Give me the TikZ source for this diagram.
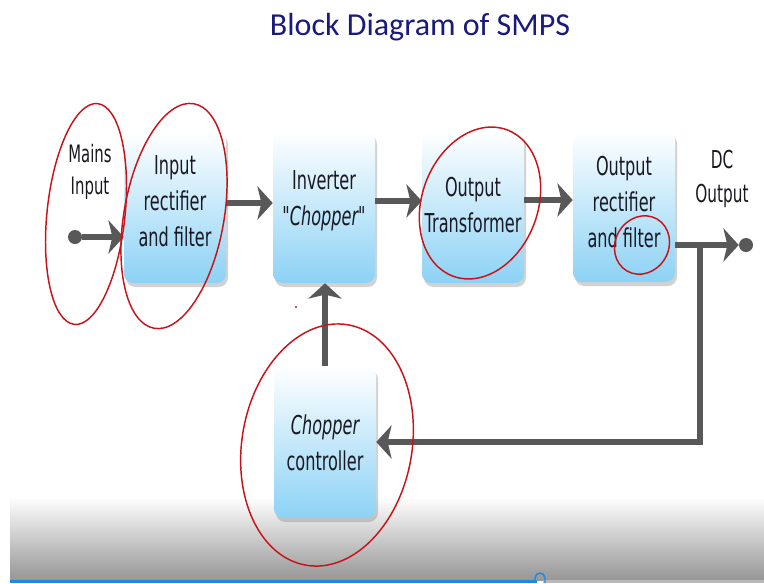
\documentclass[tikz,border=0pt]{standalone}
\usepackage{fontspec}
\usetikzlibrary{arrows.meta,shadows,calc}
\newfontfamily\boxfont[FakeStretch=0.62]{DejaVu Sans}
\newfontfamily\titlefont{Carlito}
\definecolor{linegray}{RGB}{88,88,88}
\definecolor{boxblue}{RGB}{140,210,245}
\definecolor{boxmid}{RGB}{210,239,252}
\definecolor{titleblue}{RGB}{26,26,125}
\definecolor{annred}{RGB}{200,20,25}
\definecolor{barblue}{RGB}{30,136,229}
\definecolor{shadegray}{RGB}{150,150,150}
\definecolor{textdark}{RGB}{25,25,35}
\begin{document}
\begin{tikzpicture}[x=0.75pt,y=-0.75pt,
  blk/.style={rounded corners=7pt, minimum width=76.5pt, minimum height=114pt,
    top color=white, middle color=boxmid, bottom color=boxblue,
    drop shadow={shadow xshift=1.5pt, shadow yshift=-3pt, opacity=0.35}, inner sep=0pt},
  lbl/.style={align=center, text=textdark, font=\boxfont\fontsize{19.5}{27}\selectfont, inner sep=0pt},
  flow/.style={draw=linegray, line width=4.5pt, -{Stealth[length=11.5pt, width=25pt, inset=3pt]}},
  term/.style={circle, fill=linegray, minimum size=10.5pt, inner sep=0pt},
  ann/.style={draw=annred, line width=1.1pt}]
\useasboundingbox (0,0) rectangle (764,583);
\fill[white] (0,0) rectangle (764,583);
% bottom video gradient and progress bar
\shade[top color=white, bottom color=shadegray] (10,497) rectangle (764,580);
\fill[barblue] (10,580) rectangle (537,583);
\fill[gray!55] (543,580) rectangle (764,583);
\draw[barblue, line width=1.1pt] (535,583) -- (535,578) arc[start angle=180, end angle=0, radius=3.75pt] -- (545,583);

% title
\node[font=\titlefont\fontsize{24}{28}\selectfont, text=titleblue, anchor=base] (title) at (420,35) {Block Diagram of SMPS};

% blocks
\node[blk] (b1) at (175,207) {};
\node[blk] (b2) at (324,207) {};
\node[blk] (b3) at (473,207) {};
\node[blk] (b4) at (624,206) {};
\node[blk] (b5) at (325,442) {};
\node[lbl] (t1) at (175,201) {Input\\rectifier\\and filter};
\node[lbl] (t2) at (324,201) {Inverter\\\itshape "Chopper"};
\node[lbl] (t3) at (473,205) {Output\\Transformer};
\node[lbl] (t4) at (624,202) {Output\\rectifier\\and filter};
\node[lbl] (t5) at (325,443) {\itshape Chopper\\controller};

% terminals and labels
\node[lbl, font=\boxfont\fontsize{18}{23.5}\selectfont] (mainslbl) at (90,172) {Mains\\Input};
\node[lbl, font=\boxfont\fontsize{18.5}{26}\selectfont] (dclbl) at (722,179) {DC\\Output};
\node[term] (mi) at (75,237) {};
\node[term] (dc) at (746,245) {};
\coordinate (jn) at (700,245);

% connectors
\draw[flow] (mi) -- (mi -| b1.west);
\draw[flow] ($(b1.east)+(0,-4)$) -- ($(b2.west)+(0,-4)$);
\draw[flow] ($(b2.east)+(0,-6)$) -- ($(b3.west)+(0,-6)$);
\draw[flow] ($(b3.east)+(0,-7)$) -- ($(b4.west)+(0,-6)$);
\draw[flow] (b4.east |- dc) -- (dc.west);
\draw[flow] (jn) |- (b5.east);
\draw[flow] (b5.north) -- (b5.north |- b2.south);

% hand-drawn red annotations
\draw[ann, rotate around={-6:(86,214)}] (86,214) ellipse [x radius=29.25pt, y radius=83.25pt];
\draw[ann, rotate around={-10:(174,216)}] (174,216) ellipse [x radius=37.5pt, y radius=85.5pt];
\draw[ann, rotate around={-20:(480,203)}] (480,203) ellipse [x radius=43.5pt, y radius=58.5pt];
\draw[ann, rotate around={-30:(642,245)}] (642,245) ellipse [x radius=20pt, y radius=22.5pt];
\draw[ann, rotate around={-10:(327,445)}] (327,445) ellipse [x radius=63.75pt, y radius=91.5pt];
\fill[annred] (296,307) circle[radius=0.8pt];
\end{tikzpicture}
\end{document}
